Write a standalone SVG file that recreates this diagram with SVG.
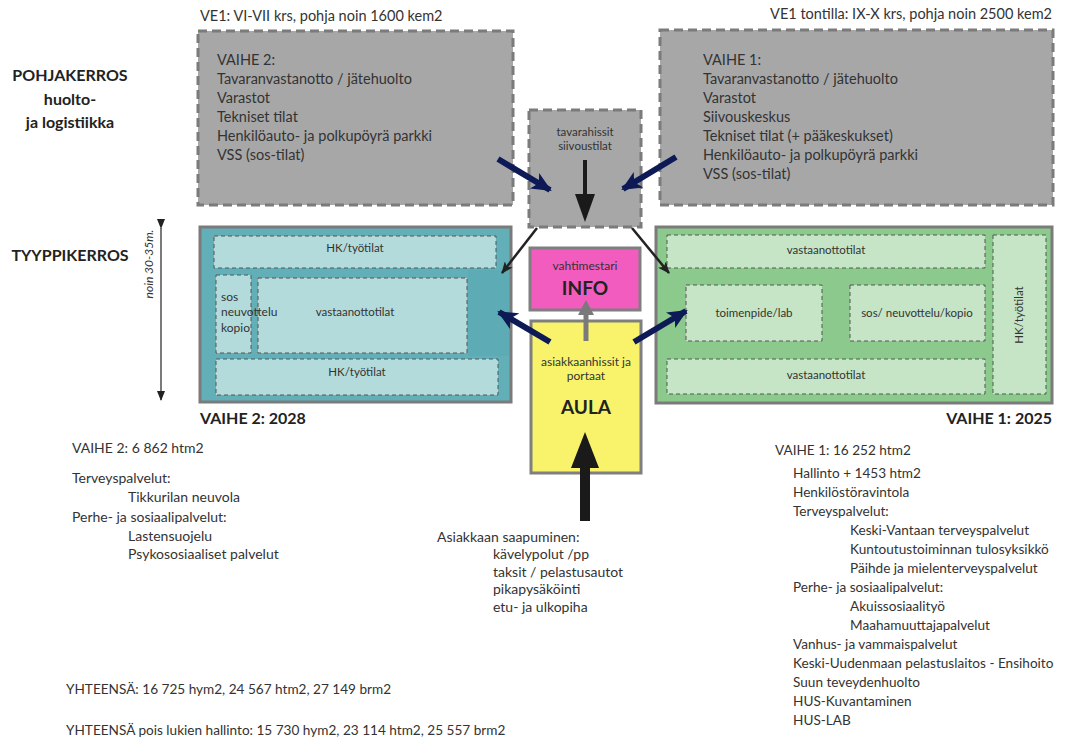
<svg xmlns="http://www.w3.org/2000/svg" width="1080" height="740" viewBox="0 0 1080 740">
<defs>
<style>
text{font-family:Lato,"Liberation Sans",sans-serif;fill:#333}
.t14{font-size:14.5px}
.t13{font-size:14px}
.r13{font-size:13.6px}
.t12{font-size:12px}
.t11{font-size:11.5px}
.b{font-weight:bold;fill:#222}
.mid{text-anchor:middle}
.end{text-anchor:end}
.grey{fill:#a7a7a8;stroke:#7b7b7b;stroke-width:3;stroke-dasharray:9 5}
.inner{stroke:#555;stroke-width:1;stroke-dasharray:4 3}
.navy{stroke:#0d1a56;stroke-width:6;fill:none}
.thin{stroke:#222;stroke-width:2.5;fill:none}
</style>
<marker id="mNavy" markerUnits="userSpaceOnUse" viewBox="0 0 20 18" refX="18" refY="9" markerWidth="20" markerHeight="18" orient="auto"><path d="M0,0 L20,9 L0,18 L5,9 Z" fill="#0d1a56"/></marker>
<marker id="mThin" markerUnits="userSpaceOnUse" viewBox="0 0 12 10" refX="11" refY="5" markerWidth="12" markerHeight="10" orient="auto"><path d="M0,0 L12,5 L0,10 L3,5 Z" fill="#222"/></marker>
<marker id="mDim" markerUnits="userSpaceOnUse" viewBox="0 0 10 10" refX="9" refY="5" markerWidth="10" markerHeight="10" orient="auto"><path d="M0,1 L10,5 L0,9 Z" fill="#222"/></marker>
</defs>
<rect width="1080" height="740" fill="#fff"/>

<g id="labels-left">
<text x="70" y="81" class="b mid" style="font-size:16px">POHJAKERROS</text>
<text x="70" y="105" class="b mid" style="font-size:16px">huolto-</text>
<text x="70" y="128" class="b mid" style="font-size:16px">ja logistiikka</text>
<text x="70" y="261" class="b mid" style="font-size:16px">TYYPPIKERROS</text>
</g>

<g id="dimension">
<line x1="161" y1="228" x2="161" y2="400" stroke="#222" stroke-width="1.2" marker-start="url(#mDim)" marker-end="url(#mDim)"/>
<text transform="translate(153,264) rotate(-90)" class="mid" style="font-size:12px;font-style:italic">noin 30-35m.</text>
</g>

<g id="pohja-vaihe2">
<text x="200" y="21" class="t14">VE1: VI-VII krs, pohja noin 1600 kem2</text>
<rect x="198" y="31" width="315" height="174" class="grey"/>
<text x="217" y="65" class="t14">VAIHE 2:</text>
<text x="217" y="84" class="t14">Tavaranvastanotto / jätehuolto</text>
<text x="217" y="103" class="t14">Varastot</text>
<text x="217" y="122" class="t14">Tekniset tilat</text>
<text x="217" y="141" class="t14">Henkilöauto- ja polkupöyrä parkki</text>
<text x="217" y="160" class="t14">VSS (sos-tilat)</text>
</g>

<g id="pohja-vaihe1">
<text x="1052" y="19" class="t14 end">VE1 tontilla: IX-X krs, pohja noin 2500 kem2</text>
<rect x="660" y="30" width="393" height="175" class="grey"/>
<text x="703" y="65" class="t14">VAIHE 1:</text>
<text x="703" y="84" class="t14">Tavaranvastanotto / jätehuolto</text>
<text x="703" y="103" class="t14">Varastot</text>
<text x="703" y="122" class="t14">Siivouskeskus</text>
<text x="703" y="141" class="t14">Tekniset tilat (+ pääkeskukset)</text>
<text x="703" y="160" class="t14">Henkilöauto- ja polkupöyrä parkki</text>
<text x="703" y="179" class="t14">VSS (sos-tilat)</text>
</g>

<g id="tavarahissit">
<rect x="529" y="110" width="112" height="117" class="grey"/>
<text x="585" y="136" class="t11 mid">tavarahissit</text>
<text x="585" y="150" class="t11 mid">siivoustilat</text>
<line x1="585" y1="160" x2="585" y2="198" stroke="#1a1a1a" stroke-width="4"/>
<path d="M575,194 L595,194 L585,222 Z" fill="#1a1a1a"/>
</g>

<g id="info">
<rect x="530" y="248" width="110" height="62" fill="#f25cbf" stroke="#7f7f7f" stroke-width="3"/>
<text x="585" y="270" class="t12 mid">vahtimestari</text>
<text x="585" y="295" class="b mid" style="font-size:19px">INFO</text>
</g>

<g id="aula">
<rect x="531" y="321" width="110" height="152" fill="#f9f36b" stroke="#7f7f7f" stroke-width="3"/>
<text x="586" y="366" class="t12 mid">asiakkaanhissit ja</text>
<text x="586" y="380" class="t12 mid">portaat</text>
<text x="586" y="414" class="b mid" style="font-size:19px">AULA</text>
</g>

<g id="tyyppi-vaihe2">
<rect x="200" y="227" width="311" height="175" fill="#63afb8" stroke="#7b7b7b" stroke-width="3"/>
<rect x="468" y="270" width="41" height="86" fill="#5dabb5"/>
<rect x="214" y="236" width="282" height="32" fill="#b3dbdb" class="inner"/>
<text x="355" y="252" class="t11 mid">HK/työtilat</text>
<rect x="216" y="275" width="35" height="78" fill="#b3dbdb" class="inner"/>
<rect x="258" y="278" width="209" height="75" fill="#b3dbdb" class="inner"/>
<text x="221" y="301" class="t12">sos</text>
<text x="221" y="316" class="t12">neuvottelu</text>
<text x="221" y="332" class="t12">kopio</text>
<text x="355" y="316" class="t11 mid">vastaanottotilat</text>
<rect x="216" y="359" width="282" height="36" fill="#b3dbdb" class="inner"/>
<text x="357" y="376" class="t11 mid">HK/työtilat</text>
<text x="200" y="424" class="b" style="font-size:16px">VAIHE 2: 2028</text>
</g>

<g id="tyyppi-vaihe1">
<rect x="656" y="227" width="396" height="176" fill="#8cc98c" stroke="#7b7b7b" stroke-width="3"/>
<rect x="667" y="235" width="318" height="33" fill="#c6e5c6" class="inner"/>
<text x="826" y="254" class="t11 mid">vastaanottotilat</text>
<rect x="686" y="285" width="136" height="56" fill="#c6e5c6" class="inner"/>
<text x="754" y="317" class="t11 mid">toimenpide/lab</text>
<rect x="850" y="285" width="135" height="56" fill="#c6e5c6" class="inner"/>
<text x="917" y="317" class="t11 mid">sos/ neuvottelu/kopio</text>
<rect x="667" y="359" width="318" height="35" fill="#c6e5c6" class="inner"/>
<text x="826" y="379" class="t11 mid">vastaanottotilat</text>
<rect x="993" y="235" width="53" height="159" fill="#c6e5c6" class="inner"/>
<text transform="translate(1023,315) rotate(-90)" class="t11 mid">HK/työtilat</text>
<text x="1052" y="424" class="b end" style="font-size:16px">VAIHE 1: 2025</text>
</g>

<g id="connectors">
<line x1="498" y1="159" x2="550" y2="190" class="navy" marker-end="url(#mNavy)"/>
<line x1="676" y1="157" x2="623" y2="189" class="navy" marker-end="url(#mNavy)"/>
<line x1="550" y1="342" x2="499" y2="312" class="navy" marker-end="url(#mNavy)"/>
<line x1="634" y1="342" x2="686" y2="311" class="navy" marker-end="url(#mNavy)"/>
<line x1="537" y1="228" x2="502" y2="273" class="thin" marker-end="url(#mThin)"/>
<line x1="632" y1="228" x2="669" y2="273" class="thin" marker-end="url(#mThin)"/>
<line x1="586" y1="341" x2="586" y2="312" stroke="#7a7a7a" stroke-width="5"/>
<path d="M578,315 L594,315 L586,300 Z" fill="#7a7a7a"/>
<line x1="585" y1="521" x2="585" y2="462" stroke="#1a1a1a" stroke-width="10"/>
<path d="M571,468 L599,468 L585,432 Z" fill="#1a1a1a"/>
</g>

<g id="vaihe2-list">
<text x="72" y="453" class="t13">VAIHE 2: 6 862 htm2</text>
<text x="72" y="483" class="t13">Terveyspalvelut:</text>
<text x="128" y="502" class="t13">Tikkurilan neuvola</text>
<text x="72" y="522" class="t13">Perhe- ja sosiaalipalvelut:</text>
<text x="128" y="541" class="t13">Lastensuojelu</text>
<text x="128" y="559" class="t13">Psykososiaaliset palvelut</text>
</g>

<g id="saapuminen">
<text x="437" y="542" class="t13">Asiakkaan saapuminen:</text>
<text x="493" y="559" class="t13">kävelypolut /pp</text>
<text x="493" y="577" class="t13">taksit / pelastusautot</text>
<text x="493" y="594" class="t13">pikapysäköinti</text>
<text x="493" y="612" class="t13">etu- ja ulkopiha</text>
</g>

<g id="vaihe1-list">
<text x="775" y="455" class="r13">VAIHE 1: 16 252 htm2</text>
<text x="793" y="478" class="r13">Hallinto + 1453 htm2</text>
<text x="793" y="497" class="r13">Henkilöstöravintola</text>
<text x="793" y="516" class="r13">Terveyspalvelut:</text>
<text x="850" y="535" class="r13">Keski-Vantaan terveyspalvelut</text>
<text x="850" y="554" class="r13">Kuntoutustoiminnan tulosyksikkö</text>
<text x="850" y="573" class="r13">Päihde ja mielenterveyspalvelut</text>
<text x="793" y="592" class="r13">Perhe- ja sosiaalipalvelut:</text>
<text x="850" y="611" class="r13">Akuissosiaalityö</text>
<text x="850" y="630" class="r13">Maahamuuttajapalvelut</text>
<text x="793" y="649" class="r13">Vanhus- ja vammaispalvelut</text>
<text x="793" y="668" class="r13">Keski-Uudenmaan pelastuslaitos - Ensihoito</text>
<text x="793" y="687" class="r13">Suun teveydenhuolto</text>
<text x="793" y="706" class="r13">HUS-Kuvantaminen</text>
<text x="793" y="725" class="r13">HUS-LAB</text>
</g>

<g id="totals">
<text x="66" y="694" class="r13">YHTEENSÄ: 16 725 hym2, 24 567 htm2, 27 149 brm2</text>
<text x="66" y="735" class="r13">YHTEENSÄ pois lukien hallinto: 15 730 hym2, 23 114 htm2, 25 557 brm2</text>
</g>
</svg>
